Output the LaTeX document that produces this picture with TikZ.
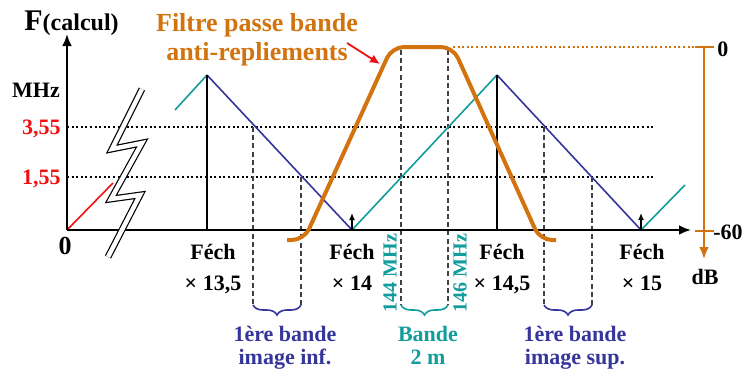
\documentclass[tikz,border=0pt]{standalone}
\usepackage{fontspec}
\setmainfont{Liberation Serif}
\usetikzlibrary{arrows.meta, decorations.pathreplacing}
\definecolor{filtre}{HTML}{D2730F}
\definecolor{imageband}{HTML}{35359A}
\definecolor{deuxm}{HTML}{129C9C}
\definecolor{rouge}{HTML}{F01010}
\definecolor{tiret}{HTML}{404040}

\begin{document}
\begin{tikzpicture}[
  x=0.5pt, y=-0.5pt,                       % 1 unit = 1 px of the sketch, y downwards
  font=\bfseries\fontsize{11}{15.5}\selectfont,
  axe/.style={line width=1.3pt, -{Latex[length=6pt, width=5pt]}},
  grille/.style={line width=0.8pt, dash pattern=on 1pt off 1.3pt},
  rappel/.style={draw=tiret, line width=0.7pt, dash pattern=on 2.5pt off 1.6pt},
  dent/.style={line width=0.8pt},
  raie/.style={line width=0.8pt, -{Latex[length=3.5pt, width=3pt]}},
  accolade/.style={decorate, decoration={brace, mirror, amplitude=5pt}, line width=0.8pt},
  lbl/.style={align=center, inner sep=0pt},
  bas/.style={lbl, font=\bfseries\fontsize{11}{11.5}\selectfont}
]

  \useasboundingbox (0,0) rectangle (746,376);

  % --- reference points ---
  \coordinate (O)    at (67,230);
  \coordinate (ytop) at (67,34);
  \coordinate (xend) at (691,230);

  % --- horizontal dotted levels 3,55 / 1,55 ---
  \draw[grille] (67,127) -- (653,127);
  \draw[grille] (67,177) -- (653,177);

  % --- dashed reference lines down to the braces ---
  \draw[rappel] (253,127) -- (253,305);
  \draw[rappel] (301,177) -- (301,305);
  \draw[rappel] (401,50)  -- (401,305);
  \draw[rappel] (448,50)  -- (448,305);
  \draw[rappel] (544,127) -- (544,305);
  \draw[rappel] (592,177) -- (592,305);

  % --- aliased spectrum (triangles) ---
  \draw[dent, rouge]     (O) -- (113,183);
  \draw[dent, deuxm]     (175,110) -- (207,75);
  \draw[dent, imageband] (207,75) -- (352,230);
  \draw[dent, deuxm]     (352,230) -- (497,75);
  \draw[dent, imageband] (497,75) -- (641,230);
  \draw[dent, deuxm]     (641,230) -- (685,185);

  % --- multiples of Fech ---
  \draw[line width=0.9pt] (207,75) -- (207,230);
  \draw[line width=0.9pt] (497,75) -- (497,230);
  \draw[raie] (352,230) -- (352,213);
  \draw[raie] (641,230) -- (641,213);

  % --- axes ---
  \draw[axe] (O) -- (ytop);
  \draw[axe] (O) -- (xend);

  % --- axis break ---
  \draw[line width=0.6pt, double=white, double distance=2.2pt, line join=miter]
    (142,89) -- (112,149) -- (142,143) -- (111,199) -- (140,195) -- (108,257);

  % --- anti-aliasing band-pass filter ---
  \draw[filtre, line width=2pt, rounded corners=6pt]
    (287,240) -- (304,240) -- (392,47) -- (453,47) -- (540,240) -- (556,240);
  \draw[filtre, line width=0.7pt, dash pattern=on 1pt off 1.3pt] (453,47) -- (697,47);

  % --- dB scale ---
  \draw[filtre, line width=1.3pt, -{Latex[length=6pt, width=5pt]}] (704,47) -- (704,259);
  \draw[filtre, line width=1.3pt] (695,47) -- (714,47);
  \draw[filtre, line width=1.3pt] (695,231) -- (714,231);

  % --- y axis labels ---
  \node[lbl, anchor=base west] (fcalc) at (24,30)
    {\fontsize{15}{15}\selectfont F\fontsize{12}{12}\selectfont(calcul)};
  \node[lbl] (mhz) at (36,90) {MHz};
  \node[lbl, anchor=east, text=rouge] (v355) at (61,129) {3,55};
  \node[lbl, anchor=east, text=rouge] (v155) at (61,179) {1,55};
  \node[lbl, font=\bfseries\fontsize{13}{13}\selectfont] (zero) at (65,246) {0};

  % --- filter label ---
  \node[lbl, text=filtre, font=\bfseries\fontsize{13}{14.5}\selectfont] (nomfiltre) at (257,40)
    {Filtre passe bande\\anti-repliements};
  \coordinate (depart) at (347,43);
  \coordinate (pointe) at (380,64);
  \draw[rouge, line width=0.9pt, -{Latex[length=5pt, width=4.5pt]}] (depart) -- (pointe);

  % --- Fech multiples ---
  \node[lbl, anchor=north] (f135) at (213,244) {Féch\\× 13,5};
  \node[lbl, anchor=north] (f14)  at (352,244) {Féch\\× 14};
  \node[lbl, anchor=north] (f145) at (502,244) {Féch\\× 14,5};
  \node[lbl, anchor=north] (f15)  at (642,244) {Féch\\× 15};

  % --- band edges ---
  \node[lbl, rotate=90, text=deuxm, font=\bfseries\fontsize{10}{10}\selectfont] (b144) at (390,273) {144 MHz};
  \node[lbl, rotate=90, text=deuxm, font=\bfseries\fontsize{10}{10}\selectfont] (b146) at (460,273) {146 MHz};

  % --- dB labels ---
  \node[lbl, anchor=west, font=\bfseries\fontsize{11}{11}\selectfont] (db0)  at (717,49)  {0};
  \node[lbl, anchor=west] (db60) at (713,232) {-60};
  \node[lbl] (db) at (705,277) {dB};

  % --- braces + band names ---
  \draw[accolade, imageband] (253,305) -- (301,305);
  \draw[accolade, deuxm]     (401,305) -- (448,305);
  \draw[accolade, imageband] (544,305) -- (592,305);
  \node[bas, anchor=north, text=imageband] (inf) at (285,326) {1ère bande\\image inf.};
  \node[bas, anchor=north, text=deuxm]     (dm)  at (428,326) {Bande\\2 m};
  \node[bas, anchor=north, text=imageband] (sup) at (575,326) {1ère bande\\image sup.};

\end{tikzpicture}
\end{document}
